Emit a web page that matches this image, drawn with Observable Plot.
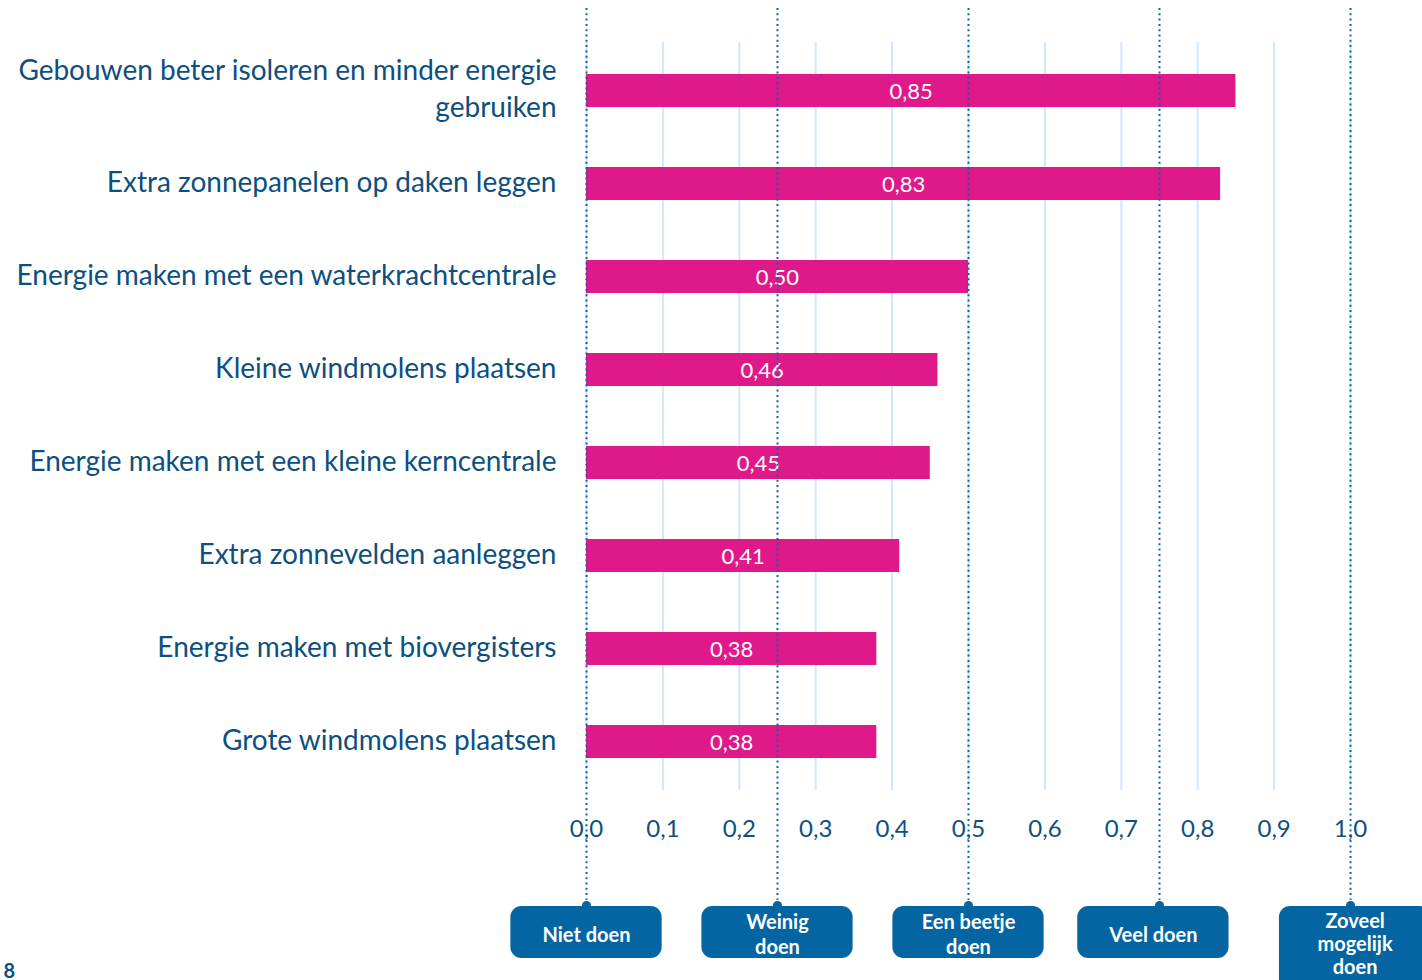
<!DOCTYPE html>
<html>
<head>
<meta charset="utf-8">
<script src="https://cdn.jsdelivr.net/npm/d3@7"></script>
<script src="https://cdn.jsdelivr.net/npm/@observablehq/plot@0.6"></script>
<style>
  html, body { margin: 0; padding: 0; background: #fff; }
  #chart { width: 1422px; height: 980px; overflow: hidden; }
  svg { font-family: Lato, "Open Sans", sans-serif; }
</style>
</head>
<body>
<div id="chart"></div>
<script>
const categories = [
  "Gebouwen beter isoleren en minder energie gebruiken",
  "Extra zonnepanelen op daken leggen",
  "Energie maken met een waterkrachtcentrale",
  "Kleine windmolens plaatsen",
  "Energie maken met een kleine kerncentrale",
  "Extra zonnevelden aanleggen",
  "Energie maken met biovergisters",
  "Grote windmolens plaatsen"
];
const values = [0.85, 0.83, 0.50, 0.46, 0.45, 0.41, 0.38, 0.38];
const xTicks = [0, 0.1, 0.2, 0.3, 0.4, 0.5, 0.6, 0.7, 0.8, 0.9, 1.0];
const scaleMarks = [0, 0.25, 0.5, 0.75, 1.0];
const scaleLabels = ["Niet doen", "Weinig\ndoen", "Een beetje\ndoen", "Veel doen", "Zoveel\nmogelijk\ndoen"];
const boxCenters = [0, 0.25, 0.5, 0.742, 1.006];

const data = categories.map((c, i) => ({category: c, value: values[i]}));
const boxes = scaleLabels.map((l, i) => ({label: l, x: boxCenters[i], mark: scaleMarks[i]}));

const textColor = "#0d4f80";
const dotColor = "#0a64a4";
const boxColor = "#0565a2";
const barColor = "#e0198a";
const gridColor = "#cfe8f9";
const comma = (v, n) => v.toFixed(n).replace(".", ",");
const wrapLabel = c => c === categories[0] ? "Gebouwen beter isoleren en minder energie\ngebruiken" : c;

const halfW = 0.099;

const plot = Plot.plot({
  width: 1422,
  height: 980,
  marginLeft: 586,
  marginRight: 72,
  marginTop: 42,
  marginBottom: 190,
  style: {fontFamily: "Lato, 'Open Sans', sans-serif", background: "#fff", overflow: "visible"},
  x: {domain: [0, 1]},
  y: {domain: categories, paddingInner: 0.65, paddingOuter: 0.32},
  marks: [
    Plot.ruleX(xTicks, {stroke: gridColor, strokeWidth: 2}),
    Plot.barX(data, {x: "value", y: "category", fill: barColor}),
    Plot.text(data, {x: d => d.value / 2, y: "category", text: d => comma(d.value, 2), fill: "white", fontSize: 22, dy: 1}),
    Plot.ruleX(scaleMarks, {stroke: dotColor, strokeWidth: 2, strokeDasharray: "2 3.3", insetTop: -34, insetBottom: -110}),
    Plot.axisY({tickSize: 0, tickPadding: 30, fontSize: 28, color: textColor, label: null, tickFormat: wrapLabel, lineHeight: 1.32, dy: -4}),
    Plot.axisX({ticks: xTicks, tickSize: 0, tickPadding: 29, fontSize: 24, color: textColor, label: null, tickFormat: d => comma(d, 1)}),
    // tabs on top of boxes
    Plot.dot(boxes, {x: "mark", frameAnchor: "bottom", dy: 115, r: 4.5, fill: boxColor}),
    Plot.rect(boxes.slice(0, 4), {x1: d => d.x - halfW, x2: d => d.x + halfW, fill: boxColor, rx: 11, insetTop: 864, insetBottom: -168}),
    Plot.rect(boxes.slice(4), {x1: d => d.x - halfW, x2: d => d.x + halfW, fill: boxColor, rx: 11, insetTop: 864, insetBottom: -200}),
    Plot.text(boxes.slice(0, 4), {x: "x", text: "label", frameAnchor: "bottom", lineAnchor: "middle", dy: 143, fill: "white", fontSize: 20, fontWeight: "bold", lineHeight: 1.28}),
    Plot.text(boxes.slice(4), {x: "x", text: "label", frameAnchor: "bottom", lineAnchor: "middle", dy: 153, fill: "white", fontSize: 20, fontWeight: "bold", lineHeight: 1.15}),
    Plot.text(["8"], {frameAnchor: "bottom-left", lineAnchor: "bottom", dx: -583, dy: 187, text: d => d, fill: textColor, fontSize: 20, fontWeight: "bold", textAnchor: "start"})
  ]
});
document.getElementById("chart").appendChild(plot);
</script>
</body>
</html>
